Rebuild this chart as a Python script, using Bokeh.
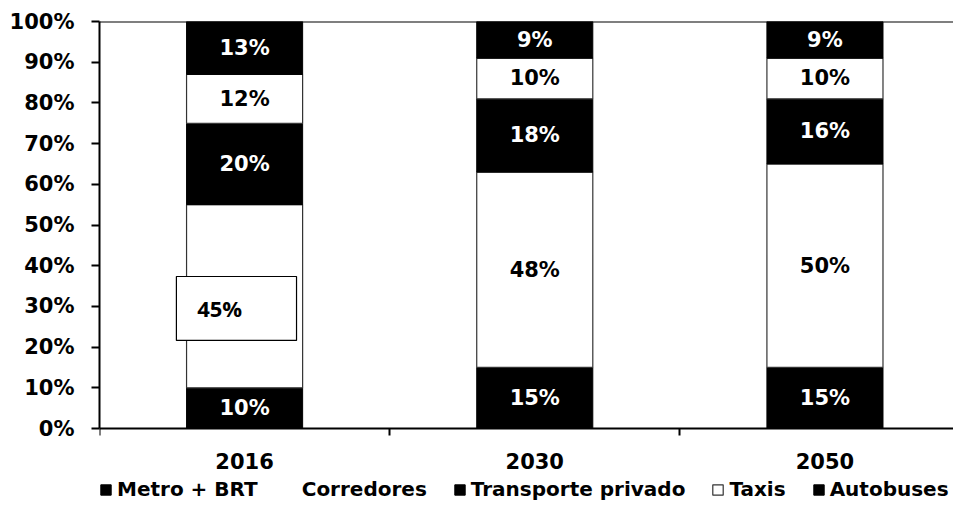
from bokeh.plotting import figure
from bokeh.models import (ColumnDataSource, Range1d, FixedTicker, PrintfTickFormatter,
                          Legend, LegendItem, Span)
from bokeh.core.properties import value
from bokeh.embed import file_html
from bokeh.resources import INLINE

# ---- data ----
years = ["2016", "2030", "2050"]
series = ["Metro + BRT", "Corredores", "Transporte privado", "Taxis", "Autobuses"]
metro_brt = [10, 15, 15]
corredores = [45, 48, 50]
transporte_privado = [20, 18, 16]
taxis = [12, 10, 10]
autobuses = [13, 9, 9]
y_ticks = [0, 10, 20, 30, 40, 50, 60, 70, 80, 90, 100]

values = [metro_brt, corredores, transporte_privado, taxis, autobuses]
fills = ["black", "white", "black", "white", "black"]
text_cols = ["white", "black", "white", "black", "white"]

FONT = "DejaVu Sans"

W, H = 953, 502
TOP, LEFT = 21, 99
PX_PER_PCT = 4.07          # 0..100 % spans 407 px
frame_h = H - TOP
y_start = -(frame_h / PX_PER_PCT - 100)   # frame extends below 0 to hold axis labels + legend

xpos = [i + 0.5 for i in range(len(years))]

p = figure(width=W, height=H, output_backend="svg", toolbar_location=None,
           x_range=Range1d(0, 2.943), y_range=Range1d(y_start, 100),
           min_border_left=LEFT, min_border_right=0, min_border_top=TOP, min_border_bottom=0)
p.xgrid.visible = False
p.ygrid.visible = False
p.outline_line_color = None
p.background_fill_color = "white"

legend_renderers = {}

# stacked bars
bottoms = [0] * len(years)
for k, vals in enumerate(values):
    tops = [b + v for b, v in zip(bottoms, vals)]
    mids = [(b + t) / 2 for b, t in zip(bottoms, tops)]
    src = ColumnDataSource(dict(x=xpos, bottom=bottoms, top=tops, mid=mids,
                                lbl=[f"{v}%" for v in vals]))
    if fills[k] == "black":
        r = p.vbar(x="x", bottom="bottom", top="top", width=0.4, source=src,
                   fill_color="black", line_color="black", line_width=1)
        legend_renderers[series[k]] = [r]
    else:
        r_fill = p.vbar(x="x", bottom="bottom", top="top", width=0.4, source=src,
                        fill_color="white", line_color=None)
        r_line = p.vbar(x="x", bottom="bottom", top="top", width=0.4, source=src,
                        fill_color=None, line_color="#333333", line_width=1.2)
        legend_renderers[series[k]] = [r_fill] if series[k] == "Corredores" else [r_fill, r_line]
    if k == 1:
        # first year's label is displaced into a bordered box
        src_main = ColumnDataSource(dict(x=xpos[1:], mid=mids[1:], lbl=[f"{v}%" for v in vals[1:]]))
        p.text(x="x", y="mid", text="lbl", source=src_main, text_align="center",
               text_baseline="middle", text_color=text_cols[k], text_font=value(FONT),
               text_font_style="bold", text_font_size="21px")
        box = ColumnDataSource(dict(x=[xpos[0] - 0.028], y=[29.5], tx=[xpos[0] - 0.086],
                                    lbl=[f"{vals[0]}%"]))
        p.rect(x="x", y="y", width=0.414, height=15.7, source=box,
               fill_color="white", line_color="black", line_width=1.2)
        p.text(x="tx", y="y", text="lbl", source=box, text_align="center",
               text_baseline="middle", text_color="black", text_font=value("Open Sans"),
               text_font_style="bold", text_font_size="22px")
    else:
        p.text(x="x", y="mid", text="lbl", source=src, text_align="center",
               text_baseline="middle", text_color=text_cols[k], text_font=value(FONT),
               text_font_style="bold", text_font_size="21px")
    bottoms = tops

# top border line
p.add_layout(Span(location=100, dimension="width", line_color="black", line_width=2))

# axes
p.yaxis.ticker = FixedTicker(ticks=y_ticks)
p.yaxis.bounds = (0, 100)
p.yaxis.formatter = PrintfTickFormatter(format="%d%%")
p.yaxis.major_label_text_font = FONT
p.yaxis.major_label_text_font_style = "bold"
p.yaxis.major_label_text_font_size = "21px"
p.yaxis.major_label_text_color = "black"
p.yaxis.major_tick_out = 8
p.yaxis.major_tick_in = 0
p.yaxis.minor_tick_line_color = None
p.yaxis.major_label_standoff = 17
p.yaxis.axis_line_width = 2
p.yaxis.major_tick_line_width = 2

p.xaxis.fixed_location = 0
p.xaxis.ticker = FixedTicker(ticks=xpos, minor_ticks=[0, 1, 2, 3])
p.xaxis.major_label_overrides = {x: y for x, y in zip(xpos, years)}
p.xaxis.major_label_text_font = FONT
p.xaxis.major_label_text_font_style = "bold"
p.xaxis.major_label_text_font_size = "21px"
p.xaxis.major_label_text_color = "black"
p.xaxis.major_tick_line_color = None
p.xaxis.major_tick_out = 0
p.xaxis.major_tick_in = 0
p.xaxis.minor_tick_out = 7
p.xaxis.minor_tick_in = 0
p.xaxis.minor_tick_line_width = 2
p.xaxis.major_label_standoff = 17
p.xaxis.axis_line_width = 2

# legend
items = [LegendItem(label=name, renderers=legend_renderers[name]) for name in series]
legend = Legend(items=items, orientation="horizontal", location=(0, 1),
                label_text_font=FONT, label_text_font_style="bold", label_text_font_size="20px",
                label_text_color="black", label_height=20,
                glyph_width=13, glyph_height=13, label_standoff=5, spacing=26,
                padding=0, margin=0, border_line_color=None, background_fill_alpha=0)
p.add_layout(legend, "center")

open("out.html", "w").write(file_html(p, INLINE))
